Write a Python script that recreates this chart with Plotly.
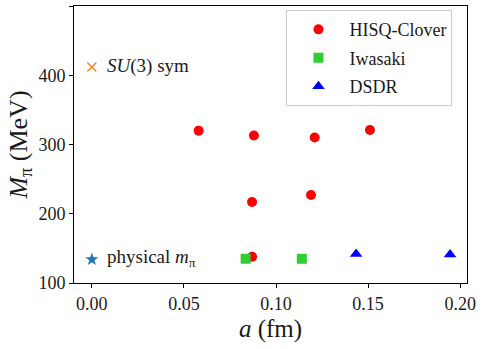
import plotly.graph_objects as go

# Data (lattice spacing a in fm, pion mass in MeV)
hisq_a = [0.058, 0.088, 0.121, 0.151, 0.087, 0.119, 0.087]
hisq_m = [320, 313, 310, 321, 217, 227, 138]
iwasaki_a = [0.0835, 0.114]
iwasaki_m = [135, 135]
dsdr_a = [0.1435, 0.1945]
dsdr_m = [142, 141]
su3_a = [0.0]
su3_m = [412]
phys_a = [0.0]
phys_m = [134]

FONT = "Liberation Serif, DejaVu Serif, serif"
TXT = "#1a1a1a"

fig = go.Figure()
fig.add_trace(go.Scatter(x=hisq_a, y=hisq_m, mode="markers", name="HISQ-Clover",
                         marker=dict(symbol="circle", size=10, color="#ff0000"),
                         legendgroup="a"))
fig.add_trace(go.Scatter(x=iwasaki_a, y=iwasaki_m, mode="markers", name="Iwasaki",
                         marker=dict(symbol="square", size=10, color="#32cd32"),
                         legendgroup="b"))
fig.add_trace(go.Scatter(x=dsdr_a, y=dsdr_m, mode="markers", name="DSDR",
                         marker=dict(symbol="triangle-up", size=11, color="#0000ff"),
                         legendgroup="c"))
fig.add_trace(go.Scatter(x=su3_a, y=su3_m, mode="markers", showlegend=False,
                         marker=dict(symbol="x-thin", size=9, color="#ff7f0e",
                                     line=dict(width=1.3, color="#ff7f0e"))))
fig.add_trace(go.Scatter(x=phys_a, y=phys_m, mode="markers", showlegend=False,
                         marker=dict(symbol="star", size=10, color="#1f77b4")))

fig.add_annotation(x=su3_a[0], y=su3_m[0], text="<i>SU</i>(3) sym", showarrow=False,
                   xanchor="left", yanchor="middle", xshift=13, yshift=1,
                   font=dict(family=FONT, size=19, color=TXT))
fig.add_annotation(x=phys_a[0], y=phys_m[0], text="physical <i>m</i><sub>π</sub>", showarrow=False,
                   xanchor="left", yanchor="middle", xshift=13, yshift=1,
                   font=dict(family=FONT, size=19, color=TXT))

axis_common = dict(showline=True, linecolor="black", linewidth=1, mirror=True,
                   ticks="outside", ticklen=4, tickcolor="black", showgrid=False,
                   zeroline=False, tickfont=dict(family=FONT, size=18, color=TXT))

fig.update_layout(
    width=481, height=349,
    margin=dict(l=74, r=9, t=5, b=66),
    font=dict(family=FONT, size=18, color=TXT),
    plot_bgcolor="white", paper_bgcolor="white",
    xaxis=dict(range=[-0.0097, 0.2037], tickvals=[0, 0.05, 0.1, 0.15, 0.2],
               ticktext=["0.00", "0.05", "0.10", "0.15", "0.20"],
               title=dict(text="<i>a</i> (fm)", font=dict(family=FONT, size=25, color=TXT), standoff=6),
               **axis_common),
    yaxis=dict(range=[100, 500], tickvals=[100, 200, 300, 400, 500],
               title=dict(text="<i>M</i><sub>π</sub> (MeV)", font=dict(family=FONT, size=26, color=TXT), standoff=3),
               **axis_common),
    legend=dict(x=0.963, y=0.985, xanchor="right", yanchor="top",
                bgcolor="rgba(255,255,255,0.8)", bordercolor="#cccccc", borderwidth=1,
                font=dict(family=FONT, size=18, color=TXT), tracegroupgap=2,
                itemwidth=52),
    showlegend=True,
)

fig.write_html("out.html")
